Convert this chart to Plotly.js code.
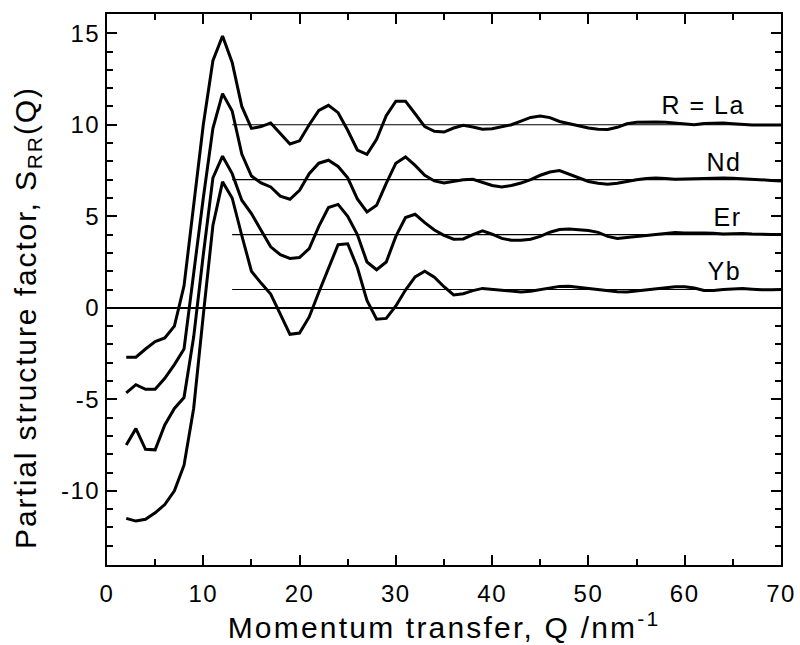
<!DOCTYPE html>
<html>
<head>
<meta charset="utf-8">
<script src="https://cdn.plot.ly/plotly-3.0.1.min.js"></script>
<style>html,body{margin:0;padding:0;background:#fff;}#chart{width:800px;height:645px;}</style>
</head>
<body>
<div id="chart"></div>
<script>
// Momentum transfer Q (nm^-1)
const Q = [2,3,4,5,6,7,8,9,10,11,12,13,14,15,16,17,18,19,20,21,22,23,24,25,26,27,28,29,30,31,32,33,34,35,36,37,38,39,40,41,42,43,44,45,46,47,48,49,50,51,52,53,54,55,56,57,58,59,60,61,62,63,64,65,66,67,68,69,70];

// S_RR(Q) curves, each shifted by its offset (La +10, Nd +7, Er +4, Yb +1)
const sLa = [-2.7,-2.7,-2.25,-1.85,-1.65,-1.0,1.2,5.6,10.0,13.5,14.85,13.4,11.0,9.8,9.9,10.1,9.5,8.95,9.12,10.0,10.78,11.06,10.66,9.7,8.62,8.38,9.2,10.5,11.29,11.29,10.6,9.9,9.64,9.6,9.82,9.97,9.88,9.76,9.78,9.88,10.0,10.2,10.4,10.48,10.39,10.18,10.05,9.93,9.82,9.75,9.74,9.86,10.05,10.13,10.15,10.15,10.13,10.1,10.04,10.0,10.07,10.1,10.09,10.05,10.0,9.99,9.98,9.98,9.98];
const sNd = [-4.65,-4.2,-4.45,-4.45,-3.85,-3.1,-2.25,1.9,6.0,9.8,11.7,10.75,8.4,7.2,6.82,6.6,6.1,5.93,6.42,7.33,7.9,8.06,7.72,7.1,5.95,5.24,5.6,6.8,7.9,8.24,7.78,7.24,6.93,6.82,6.92,7.0,7.02,6.85,6.68,6.6,6.68,6.82,7.0,7.24,7.42,7.5,7.3,7.08,6.9,6.8,6.75,6.8,6.92,7.0,7.06,7.09,7.06,7.02,7.04,7.06,7.08,7.09,7.09,7.08,7.06,7.02,7.0,6.96,6.93];
const sEr = [-7.5,-6.6,-7.73,-7.76,-6.4,-5.5,-4.9,-1.6,2.9,7.1,8.28,7.33,5.88,5.15,4.24,3.33,2.9,2.7,2.75,3.24,4.45,5.48,5.65,5.0,4.0,2.5,2.08,2.5,3.9,4.93,5.11,4.65,4.25,3.96,3.75,3.76,4.0,4.2,4.02,3.79,3.69,3.69,3.75,3.9,4.13,4.28,4.3,4.25,4.22,4.12,3.9,3.79,3.83,3.88,3.95,4.0,4.06,4.11,4.08,4.06,4.08,4.07,4.03,4.04,4.06,4.03,4.0,4.0,4.0];
const sYb = [-11.5,-11.65,-11.55,-11.2,-10.75,-10.0,-8.6,-5.5,-0.4,4.5,6.88,6.0,3.95,2.0,1.35,0.75,-0.35,-1.45,-1.38,-0.5,0.85,2.2,3.45,3.5,2.2,0.4,-0.62,-0.58,0.1,0.97,1.69,2.0,1.67,1.15,0.7,0.77,0.94,1.06,1.02,0.97,0.91,0.87,0.91,1.0,1.1,1.17,1.18,1.12,1.07,1.0,0.92,0.88,0.87,0.93,1.0,1.05,1.1,1.15,1.15,1.08,0.95,0.95,1.0,1.03,1.05,1.02,0.98,0.99,1.0];

// Reference levels (offsets) and the Q range of the thin guide lines
const offsets = [10, 7, 4, 1];
const guideQ = [13, 70];
const labels = ["R = La", "Nd", "Er", "Yb"];
const labelQ = [66, 66, 66, 66];
const labelS = [11.1, 7.95, 4.95, 2.0];

// Tick labels (hyphen minus as in the original)
const yTickVals = [-10, -5, 0, 5, 10, 15];
const yTickText = ["-10", "-5", "0", "5", "10", "15"];
const xTickVals = [0, 10, 20, 30, 40, 50, 60, 70];
const xTickText = ["0", "10", "20", "30", "40", "50", "60", "70"];

const FONT = '"Liberation Sans", Arial, Helvetica, sans-serif';

const traces = [];
offsets.forEach(o => {
  traces.push({x: guideQ, y: [o, o], mode: 'lines', line: {color: '#000', width: 1.2}, hoverinfo: 'skip', showlegend: false});
});
[sLa, sNd, sEr, sYb].forEach(s => {
  traces.push({x: Q, y: s, mode: 'lines', line: {color: '#000', width: 3}, showlegend: false});
});

const annotations = labels.map((t, i) => ({
  x: labelQ[i], y: labelS[i], xref: 'x', yref: 'y', text: t, showarrow: false,
  xanchor: 'right', yanchor: 'middle', font: {family: FONT, size: 25, color: '#000'}
}));

const layout = {
  width: 800, height: 645,
  margin: {l: 107, r: 19, t: 14, b: 80},
  paper_bgcolor: '#fff', plot_bgcolor: '#fff',
  font: {family: FONT, color: '#000'},
  xaxis: {
    range: [0, 70], tickmode: 'array', tickvals: xTickVals, ticktext: xTickText,
    ticks: 'inside', ticklen: 10, tickwidth: 2, tickcolor: '#000',
    minor: {dtick: 5, tick0: 0, ticks: 'inside', ticklen: 6, tickwidth: 2, tickcolor: '#000'},
    showline: true, linewidth: 2, linecolor: '#000', mirror: 'ticks',
    showgrid: false, zeroline: false, ticklabelstandoff: 6,
    tickfont: {family: FONT, size: 24, color: '#000'},
    title: {text: 'Momentum transfer, Q /nm<sup>-1</sup>', font: {family: FONT, size: 30, color: '#000'}, standoff: 10}
  },
  yaxis: {
    range: [-14.05, 16.05], tickmode: 'array', tickvals: yTickVals, ticktext: yTickText,
    ticks: 'inside', ticklen: 10, tickwidth: 2, tickcolor: '#000',
    minor: {dtick: 1, tick0: 0, ticks: 'inside', ticklen: 6, tickwidth: 2, tickcolor: '#000'},
    showline: true, linewidth: 2, linecolor: '#000', mirror: 'ticks',
    showgrid: false, zeroline: true, zerolinecolor: '#000', zerolinewidth: 2,
    tickfont: {family: FONT, size: 24, color: '#000'},
    title: {text: 'Partial structure factor, S<sub>RR</sub>(Q)', font: {family: FONT, size: 30, color: '#000'}, standoff: 14}
  },
  annotations: annotations
};

Plotly.newPlot('chart', traces, layout, {staticPlot: true, displayModeBar: false}).then(gd => {
  const xt = gd.querySelector('.xtitle');
  if (xt) xt.style.letterSpacing = '2.2px';
  const yt = gd.querySelector('.ytitle');
  if (yt) yt.style.letterSpacing = '1.9px';
  const gy = gd.querySelector('.g-ytitle');
  if (gy) gy.setAttribute('transform', 'translate(-6,28)');
  gd.querySelectorAll('.xtick text, .ytick text, .annotation-text').forEach(t => { t.style.letterSpacing = '1.5px'; });
});
</script>
</body>
</html>
